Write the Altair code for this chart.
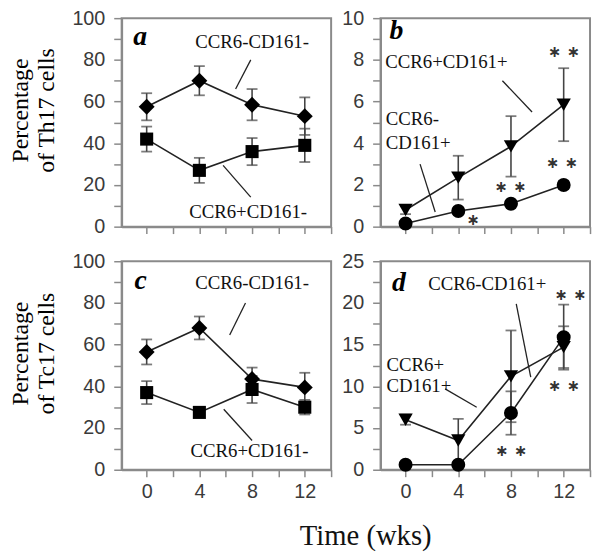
import altair as alt
import pandas as pd

weeks = [0, 4, 8, 12]

# Panel a (Th17)
a_dn = [57.5, 70, 58.5, 53]
a_dn_err = [6.5, 7, 7.5, 9]
a_pn = [42, 27, 36, 39]
a_pn_err = [6, 6, 6.5, 8]

# Panel b (Th17, CD161+)
b_pp = [0.8, 2.35, 3.85, 5.85]
b_pp_err = [0.2, 1.05, 1.45, 1.75]
b_mp = [0.15, 0.75, 1.1, 2.0]
b_mp_err = [0.1, 0.1, 0.1, 0.2]

# Panel c (Tc17)
c_dn = [56.5, 68, 43.5, 39.5]
c_dn_err = [6, 5.5, 5.5, 7]
c_pn = [37, 27.5, 38.5, 30]
c_pn_err = [5.5, 2, 6.5, 3.5]

# Panel d (Tc17, CD161+)
d_pp = [6.0, 3.5, 11.2, 14.7]
d_pp_err = [0.6, 2.6, 5.5, 2.5]
d_mp = [0.6, 0.6, 6.8, 15.9]
d_mp_err = [0.2, 0.2, 2.6, 3.9]

# annotation labels: (text, x, y, align)
a_labels = [("CCR6-CD161-", 8.0, 88.6, "center"), ("CCR6+CD161-", 7.7, 7.1, "center")]
b_labels = [("CCR6+CD161+", 3.1, 7.9, "center"), ("CCR6-", -1.5, 5.15, "left"), ("CD161+", -1.5, 4.0, "left")]
c_labels = [("CCR6-CD161-", 8.0, 89.6, "center"), ("CCR6+CD161-", 7.8, 9.0, "center")]
d_labels = [("CCR6-CD161+", 6.2, 22.3, "center"), ("CCR6+", -1.45, 12.6, "left"), ("CD161+", -1.45, 10.0, "left")]

# leader lines: (x1, y1, x2, y2)
a_lines = [(7.9, 80, 6.75, 66), (5.8, 29.4, 7.9, 14.2)]
b_lines = [(7.35, 7.0, 9.6, 5.5), (1.1, 3.0, 2.25, 0.7)]
c_lines = [(7.5, 80, 6.3, 64.6), (5.85, 29, 8.0, 14)]
d_lines = [(8.4, 19.9, 9.5, 11.1), (3.0, 9.7, 5.4, 7.5)]

# significance stars: (text, x, y)
b_stars = [("∗", 5.1, 0.33), ("∗ ∗", 7.95, 1.9), ("∗ ∗", 12.0, 8.35), ("∗ ∗", 11.85, 3.07)]
d_stars = [("∗ ∗", 12.5, 20.9), ("∗ ∗", 12.0, 10.0), ("∗ ∗", 8.0, 2.2)]

# panel letters: (letter, x, y)
a_letter = ("a", -0.5, 91)
b_letter = ("b", -0.7, 9.4)
c_letter = ("c", -0.45, 90.6)
d_letter = ("d", -0.5, 22.4)

XDOM = [-1.9, 14]
W, H = 212, 211
SERIF = "Liberation Serif"
SANS = "Liberation Sans"
GRAY = "#8a8a8a"


def panel(series, ymax, ystep, ylab_step, ytitle, show_xlabels, labels, lines, stars, letter):
    rows = []
    for name, vals, errs, shape, size in series:
        for w, v, e in zip(weeks, vals, errs):
            rows.append({"week": w, "value": v, "lo": v - e, "hi": v + e,
                         "series": name, "shape": shape, "size": size})
    df = pd.DataFrame(rows)

    nticks = int(round(ymax / ystep))
    yvals = [round(i * ystep, 4) for i in range(nticks + 1)]
    yaxis_kw = dict(values=yvals, tickSize=8, labelPadding=9, labelFont=SANS, labelFontSize=20,
                    labelColor="#3a3a3a", grid=False,
                    labelExpr=f"abs(datum.value / {ylab_step} - round(datum.value / {ylab_step})) < 0.001 ? datum.label : ''")
    if ytitle:
        yaxis_kw.update(title=ytitle, titleFont=SERIF, titleFontSize=24, titleFontWeight="normal",
                        titleColor="black", titleAngle=270, titleAlign="center", titleBaseline="bottom",
                        titleX=-90, titleY=93, titleLineHeight=26)
    else:
        yaxis_kw.update(title=None)
    yaxis = alt.Axis(**yaxis_kw)

    xaxis_kw = dict(values=[0, 2, 4, 6, 8, 10, 12, 14], tickSize=7, title=None, grid=False,
                    labelFont=SANS, labelFontSize=20, labelColor="#3a3a3a", labelPadding=5)
    if show_xlabels:
        xaxis_kw["labelExpr"] = "datum.value % 4 == 0 && datum.value <= 12 ? datum.label : ''"
    else:
        xaxis_kw["labels"] = False
    xaxis = alt.Axis(**xaxis_kw)

    xs = alt.Scale(domain=XDOM, nice=False, zero=False)
    ys = alt.Scale(domain=[0, ymax], nice=False)

    def X(f):
        return alt.X(f, type="quantitative", scale=xs, axis=xaxis)

    def Y(f):
        return alt.Y(f, type="quantitative", scale=ys, axis=yaxis)

    base = alt.Chart(df)
    line = base.mark_line(color="#222", strokeWidth=1.6).encode(x=X("week"), y=Y("value"), detail="series:N")
    rule = base.mark_rule(color="#444", strokeWidth=1.6).encode(x=X("week"), y=Y("lo"), y2="hi")
    cap_lo = base.mark_tick(orient="horizontal", size=11, thickness=1.8, color="#444").encode(x=X("week"), y=Y("lo"))
    cap_hi = base.mark_tick(orient="horizontal", size=11, thickness=1.8, color="#444").encode(x=X("week"), y=Y("hi"))
    pts = base.mark_point(filled=True, color="black", opacity=1).encode(
        x=X("week"), y=Y("value"),
        shape=alt.Shape("shape:N", scale=None),
        size=alt.Size("size:Q", scale=None),
    )

    ldf = pd.DataFrame(lines, columns=["x1", "y1", "x2", "y2"])
    lead = alt.Chart(ldf).mark_rule(color="#222", strokeWidth=1.3).encode(
        x=X("x1"), y=Y("y1"), x2="x2", y2="y2")

    tdf = pd.DataFrame(labels, columns=["text", "x", "y", "align"])
    txt_layers = []
    for al in ["center", "left"]:
        sub = tdf[tdf["align"] == al]
        if len(sub):
            txt_layers.append(alt.Chart(sub).mark_text(
                font=SERIF, fontSize=19, color="#111", align=al, baseline="middle").encode(
                x=X("x"), y=Y("y"), text="text:N"))

    sdf = pd.DataFrame(stars if stars else [("", 0, 0)], columns=["text", "x", "y"])
    star = alt.Chart(sdf).mark_text(font="DejaVu Sans", fontSize=16, fontWeight="bold", color="#333",
                                    align="center", baseline="middle").encode(
        x=X("x"), y=Y("y"), text="text:N")

    lt = pd.DataFrame([letter], columns=["text", "x", "y"])
    let = alt.Chart(lt).mark_text(font=SERIF, fontSize=28, fontWeight="bold", fontStyle="italic",
                                  color="black", align="center", baseline="middle").encode(
        x=X("x"), y=Y("y"), text="text:N")

    layers = [line, rule, cap_lo, cap_hi, pts, lead] + txt_layers + [star, let]
    return alt.layer(*layers).properties(width=W, height=H)


pa = panel([("CCR6-CD161-", a_dn, a_dn_err, "diamond", 260),
            ("CCR6+CD161-", a_pn, a_pn_err, "square", 175)],
           100, 10, 20, ["Percentage", "of Th17 cells"], False, a_labels, a_lines, [], a_letter)
pb = panel([("CCR6+CD161+", b_pp, b_pp_err, "triangle-down", 210),
            ("CCR6-CD161+", b_mp, b_mp_err, "circle", 200)],
           10, 1, 2, None, False, b_labels, b_lines, b_stars, b_letter)
pc = panel([("CCR6-CD161-", c_dn, c_dn_err, "diamond", 260),
            ("CCR6+CD161-", c_pn, c_pn_err, "square", 175)],
           100, 10, 20, ["Percentage", "of Tc17 cells"], True, c_labels, c_lines, [], c_letter)
pd_ = panel([("CCR6+CD161+", d_pp, d_pp_err, "triangle-down", 210),
             ("CCR6-CD161+", d_mp, d_mp_err, "circle", 200)],
            25, 2.5, 5, None, True, d_labels, d_lines, d_stars, d_letter)

xtitle = alt.Chart(pd.DataFrame({"t": ["Time (wks)"]})).mark_text(
    font=SERIF, fontSize=29, color="#111", align="center", baseline="middle").encode(
    x=alt.value(247), y=alt.value(278), text="t:N")
pc = alt.layer(pc, xtitle)

chart = alt.concat(pa, pb, pc, pd_, columns=2, spacing={"row": 35, "column": 50}, bounds="flush").properties(
    padding={"left": 0, "top": -4, "right": 0, "bottom": 0}
).configure_view(stroke=GRAY, strokeWidth=2).configure_axis(
    domainColor=GRAY, domainWidth=2, tickColor=GRAY, tickWidth=1.5
)

chart.save("out.html", embed_options={"renderer": "svg", "actions": False})
